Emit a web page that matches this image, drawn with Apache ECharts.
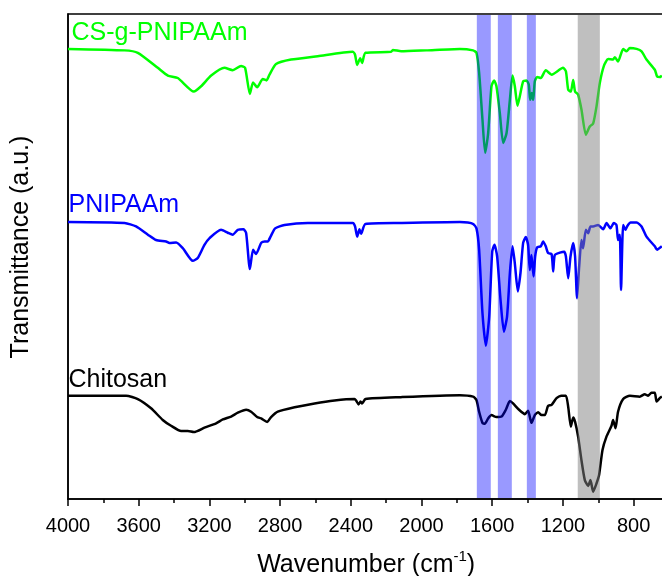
<!DOCTYPE html>
<html>
<head>
<meta charset="utf-8">
<script src="https://cdn.jsdelivr.net/npm/echarts@6/dist/echarts.min.js"></script>
<style>
  html, body { margin: 0; padding: 0; background: #fff; }
  #chart { width: 662px; height: 576px; }
</style>
</head>
<body>
<div id="chart"></div>
<script>
// FTIR spectra, offset vertically (arbitrary transmittance units)
const seriesNames = ['CS-g-PNIPAAm', 'PNIPAAm', 'Chitosan'];
const seriesColors = ['#00ff00', '#0000ff', '#000000'];

// [wavenumber (cm-1), transmittance (a.u.)]
const csgPnipaam = [
  [4000, 92.8], [3680, 92.5], [3605, 92.0], [3492, 88.9], [3435, 87.3], [3379, 86.8],
  [3288, 84.0], [3247, 85.1], [3190, 87.3], [3115, 88.9], [3068, 88.4], [3021, 89.3],
  [2998, 88.9], [2971, 83.5], [2953, 85.9], [2930, 84.9], [2898, 86.6], [2877, 86.3],
  [2860, 87.5], [2823, 89.7], [2738, 90.6], [2587, 91.3], [2389, 92.2], [2376, 91.6],
  [2364, 89.5], [2347, 90.9], [2336, 89.9], [2317, 92.0], [2172, 92.2], [2162, 92.6],
  [2115, 92.3], [1974, 92.5], [1783, 92.8], [1708, 92.5], [1689, 92.0], [1674, 87.9],
  [1655, 78.2], [1640, 71.4], [1623, 75.4], [1604, 85.1], [1589, 86.3], [1576, 85.1],
  [1557, 79.6], [1538, 73.4], [1519, 75.4], [1500, 82.3], [1485, 87.3], [1472, 85.1],
  [1457, 81.1], [1444, 83.0], [1425, 86.1], [1406, 86.3], [1393, 85.4], [1385, 82.3],
  [1376, 83.7], [1368, 82.3], [1359, 86.1], [1346, 87.0], [1325, 86.8], [1297, 88.4],
  [1264, 87.5], [1199, 88.9], [1183, 88.2], [1170, 84.4], [1155, 84.0], [1142, 86.4],
  [1131, 84.0], [1114, 83.4], [1095, 80.3], [1070, 75.1], [1048, 76.8], [1029, 77.4],
  [1010, 80.9], [991, 85.8], [968, 89.3], [944, 90.7], [916, 90.6], [906, 91.1],
  [888, 90.2], [859, 92.8], [840, 92.3], [821, 93.0], [783, 92.8], [755, 92.3],
  [727, 90.6], [680, 88.5], [667, 87.1], [652, 87.0], [640, 87.3]
];

const pnipaam = [
  [4000, 57.1], [3680, 56.9], [3615, 56.2], [3548, 54.5], [3502, 53.4], [3445, 53.1],
  [3426, 52.8], [3388, 52.9], [3350, 51.7], [3294, 49.1], [3266, 49.7], [3228, 52.4],
  [3199, 53.8], [3134, 55.5], [3096, 54.9], [3068, 54.5], [3039, 55.5], [3007, 55.6],
  [2992, 54.8], [2971, 47.4], [2953, 51.4], [2936, 50.5], [2907, 52.8], [2888, 53.1],
  [2870, 53.1], [2854, 54.1], [2828, 55.8], [2775, 56.5], [2643, 56.9], [2389, 56.9],
  [2376, 56.2], [2364, 54.1], [2351, 55.6], [2342, 54.7], [2317, 56.7], [2115, 56.9],
  [1783, 57.1], [1738, 57.0], [1708, 56.7], [1689, 55.8], [1674, 51.4], [1655, 38.3],
  [1636, 31.6], [1617, 37.6], [1600, 51.0], [1587, 52.4], [1572, 50.0], [1553, 41.1],
  [1534, 34.5], [1516, 37.6], [1500, 46.6], [1485, 52.1], [1472, 48.6], [1455, 42.8],
  [1440, 46.6], [1425, 52.8], [1410, 54.0], [1397, 52.4], [1387, 47.2], [1378, 50.3],
  [1366, 45.9], [1357, 50.0], [1346, 51.9], [1325, 52.1], [1312, 53.1], [1297, 52.1],
  [1284, 50.7], [1264, 50.5], [1255, 46.9], [1246, 50.3], [1217, 50.8], [1193, 51.0],
  [1183, 50.0], [1170, 45.5], [1157, 50.0], [1142, 52.8], [1131, 50.0], [1120, 41.4],
  [1108, 47.9], [1095, 53.4], [1086, 51.7], [1070, 55.5], [1057, 54.8], [1044, 56.2],
  [1029, 56.2], [1001, 56.5], [972, 55.6], [953, 56.9], [931, 55.8], [912, 56.9],
  [897, 56.5], [888, 53.4], [878, 54.5], [871, 43.1], [859, 56.5], [846, 55.5],
  [837, 56.2], [817, 57.0], [783, 57.0], [755, 56.2], [727, 54.1], [680, 52.1],
  [667, 51.4], [640, 52.1]
];

const chitosan = [
  [4000, 21.3], [3671, 21.3], [3605, 20.6], [3530, 18.7], [3464, 16.3], [3417, 15.1],
  [3360, 14.0], [3322, 14.0], [3288, 13.8], [3228, 14.7], [3162, 15.6], [3124, 16.4],
  [3077, 17.0], [3039, 17.8], [2992, 18.4], [2964, 18.0], [2930, 16.9], [2907, 16.6],
  [2873, 15.9], [2851, 16.9], [2813, 18.0], [2718, 18.9], [2605, 19.7], [2492, 20.3],
  [2379, 20.6], [2370, 20.3], [2356, 19.5], [2345, 20.1], [2336, 19.7], [2317, 20.6],
  [2115, 21.0], [1783, 21.4], [1708, 21.1], [1689, 20.4], [1674, 18.0], [1655, 15.7],
  [1642, 15.5], [1623, 16.6], [1604, 17.3], [1576, 16.9], [1547, 17.0], [1523, 18.4],
  [1500, 20.2], [1482, 19.7], [1448, 18.4], [1415, 17.5], [1397, 18.2], [1378, 15.7],
  [1359, 17.3], [1340, 17.9], [1321, 17.3], [1302, 17.3], [1284, 19.2], [1264, 19.4],
  [1236, 20.8], [1208, 21.3], [1183, 21.3], [1170, 19.0], [1155, 14.9], [1142, 16.8],
  [1131, 15.9], [1114, 12.9], [1095, 8.0], [1076, 3.9], [1057, 2.7], [1044, 3.9],
  [1029, 1.5], [1010, 3.2], [995, 5.0], [976, 10.1], [953, 12.9], [925, 15.1],
  [916, 16.3], [902, 14.6], [888, 18.0], [859, 20.6], [821, 21.3], [765, 21.1],
  [737, 21.6], [718, 21.3], [699, 21.9], [680, 21.9], [670, 20.1], [652, 20.8],
  [640, 21.1]
];

// Highlighted absorption regions [from, to] in cm-1
const blueBands = [[1687, 1608], [1568, 1489], [1404, 1353]];
const grayBands = [[1116, 991]];

// Axis ticks
const xTickMin = 400;
const xTickMax = 4000;
const xTickStep = 400;

const FONT = 'Liberation Sans, Arial, sans-serif';

const bandData = blueBands.map(b => [b[0], b[1], 0]).concat(grayBands.map(b => [b[0], b[1], 1]));
const bandFill = ['rgba(0,0,255,0.4)', 'rgba(128,128,128,0.5)'];

const chart = echarts.init(document.getElementById('chart'), null, { renderer: 'canvas' });

const lineSeries = [csgPnipaam, pnipaam, chitosan].map((d, i) => ({
  name: seriesNames[i],
  type: 'line',
  data: d,
  showSymbol: false,
  smooth: 0.2,
  z: 2,
  lineStyle: { color: seriesColors[i], width: 2.5 },
  itemStyle: { color: seriesColors[i] }
}));

const labelY = [33.5, 205, 380];
const labelX = [71.5, 68.5, 68.5];

chart.setOption({
  animation: false,
  backgroundColor: '#ffffff',
  grid: {
    left: 68, top: 14, bottom: 77, right: -42.3,
    outerBoundsMode: 'none',
    containLabel: false,
    show: true, borderColor: '#000', borderWidth: 1.5, backgroundColor: 'transparent'
  },
  xAxis: {
    type: 'value',
    inverse: true,
    min: xTickMin, max: xTickMax, interval: xTickStep,
    axisLine: { show: true, onZero: false, lineStyle: { color: '#000', width: 1.5 } },
    axisTick: { show: true, inside: false, length: 7, lineStyle: { color: '#000', width: 1.5 } },
    minorTick: { show: true, splitNumber: 2, length: 4, lineStyle: { color: '#000', width: 1.5 } },
    splitLine: { show: false },
    minorSplitLine: { show: false },
    axisLabel: { color: '#000', fontSize: 20, fontFamily: FONT, margin: 17, formatter: v => String(v) },
    name: 'Wavenumber (cm{sup|-1})',
    nameLocation: 'middle',
    nameGap: 50,
    nameTextStyle: {
      color: '#000', fontSize: 25, fontFamily: FONT, lineHeight: 32,
      padding: [0, 40, 0, 0],
      rich: { sup: { fontSize: 15, fontFamily: FONT, color: '#000', verticalAlign: 'top', lineHeight: 15 } }
    }
  },
  yAxis: {
    type: 'value',
    min: 0, max: 100,
    axisLine: { show: true, lineStyle: { color: '#000', width: 1.5 } },
    axisTick: { show: false },
    axisLabel: { show: false },
    splitLine: { show: false }
  },
  graphic: [
    {
      type: 'text', x: 21.5, y: 247, rotation: Math.PI / 2,
      style: { text: 'Transmittance (a.u.)', fill: '#000', font: '25px ' + FONT, align: 'center', verticalAlign: 'middle' }
    }
  ].concat(seriesNames.map((n, i) => ({
    type: 'text', x: labelX[i], y: labelY[i],
    style: { text: n, fill: seriesColors[i], font: '25px ' + FONT, align: 'left', verticalAlign: 'middle' }
  }))),
  series: lineSeries.concat([{
    type: 'custom',
    z: 5,
    silent: true,
    data: bandData,
    encode: { x: [0, 1] },
    renderItem: function (params, api) {
      const p0 = api.coord([api.value(0), 100]);
      const p1 = api.coord([api.value(1), 0]);
      const cs = params.coordSys;
      return {
        type: 'rect',
        shape: { x: p0[0], y: cs.y + 1, width: p1[0] - p0[0], height: cs.height - 2 },
        style: { fill: bandFill[api.value(2)] }
      };
    }
  }])
});
</script>
</body>
</html>
